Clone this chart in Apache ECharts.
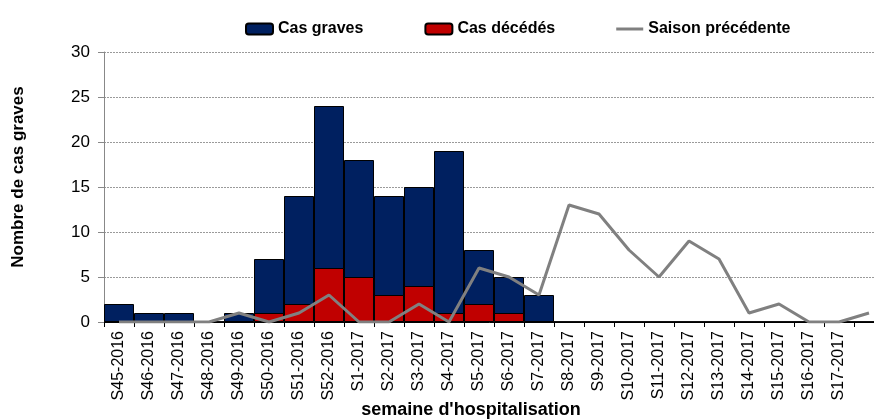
<!DOCTYPE html>
<html>
<head>
<meta charset="utf-8">
<script src="https://cdn.jsdelivr.net/npm/echarts@6/dist/echarts.min.js"></script>
<style>
html,body{margin:0;padding:0;background:#fff;}
#chart{width:874px;height:420px;}
</style>
</head>
<body>
<div id="chart"></div>
<script>
const categories = ['S45-2016','S46-2016','S47-2016','S48-2016','S49-2016','S50-2016','S51-2016','S52-2016',
  'S1-2017','S2-2017','S3-2017','S4-2017','S5-2017','S6-2017','S7-2017','S8-2017','S9-2017','S10-2017',
  'S11-2017','S12-2017','S13-2017','S14-2017','S15-2017','S16-2017','S17-2017','S18-2017'];
const casGraves  = [2,1,1,0,1,7,14,24,18,14,15,19,8,5,3,0,0,0,0,0,0,0,0,0,0,0];
const casDecedes = [0,0,0,0,0,1,2,6,5,3,4,1,2,1,0,0,0,0,0,0,0,0,0,0,0,0];
const saisonPrecedente = [0,0,0,0,1,0,1,3,0,0,2,0,6,5,3,13,12,8,5,9,7,1,2,0,0,1];
const yTicks = [0,5,10,15,20,25,30];

const FONT = '"Liberation Sans", Arial, sans-serif';
const chart = echarts.init(document.getElementById('chart'), null, {renderer:'canvas'});
chart.setOption({
  animation:false,
  backgroundColor:'#ffffff',
  textStyle:{fontFamily:FONT},
  legend:{
    left:240, top:16, itemWidth:27, itemHeight:11, itemGap:61,
    textStyle:{fontFamily:FONT, fontSize:16, fontWeight:'bold', color:'#000'},
    data:['Cas graves','Cas décédés',
      {name:'Saison précédente', icon:'path://M0,0 L27,0 L27,3 L0,3 Z', itemStyle:{color:'#808080'}}]
  },
  grid:{left:104, width:780, top:52, bottom:98, containLabel:false, outerBoundsMode:'none'},
  xAxis:{
    type:'category', data:categories, boundaryGap:true,
    axisLine:{lineStyle:{color:'#000', width:1}},
    axisTick:{show:true, length:5, lineStyle:{color:'#000'}},
    axisLabel:{interval:0, rotate:90, margin:9, fontSize:16, color:'#000', fontFamily:FONT,
      formatter:function(v, i){ return i === categories.length - 1 ? '' : v; }},
    splitLine:{show:false}
  },
  yAxis:{
    type:'value', min:yTicks[0], max:yTicks[yTicks.length-1], interval:5,
    axisLine:{show:true, lineStyle:{color:'#888888', width:1}},
    axisTick:{show:true, length:6, lineStyle:{color:'#888888'}},
    axisLabel:{fontSize:17, color:'#000', margin:14, fontFamily:FONT},
    splitLine:{show:true, lineStyle:{color:'#9a9a9a', type:[2,1], width:1}}
  },
  series:[
    {name:'Cas graves', type:'bar', data:casGraves, barWidth:'100%', barGap:'-100%',
      itemStyle:{color:'#002060', borderColor:'#000', borderWidth:1}, z:2},
    {name:'Cas décédés', type:'bar', data:casDecedes, barWidth:'100%', barGap:'-100%',
      itemStyle:{color:'#C00000', borderColor:'#000', borderWidth:1}, z:3},
    {name:'Saison précédente', type:'line', data:saisonPrecedente, symbol:'none', showSymbol:false,
      lineStyle:{color:'#808080', width:3}, itemStyle:{color:'#808080'}, z:5}
  ],
  graphic:[
    {type:'text', x:18, y:177, rotation:Math.PI/2,
      style:{text:'Nombre de cas graves', fill:'#000', font:'bold 17px ' + FONT, textAlign:'center', textVerticalAlign:'middle'}},
    {type:'text', x:471, y:410,
      style:{text:"semaine d'hospitalisation", fill:'#000', font:'bold 18px ' + FONT, textAlign:'center', textVerticalAlign:'middle'}}
  ]
});
</script>
</body>
</html>
